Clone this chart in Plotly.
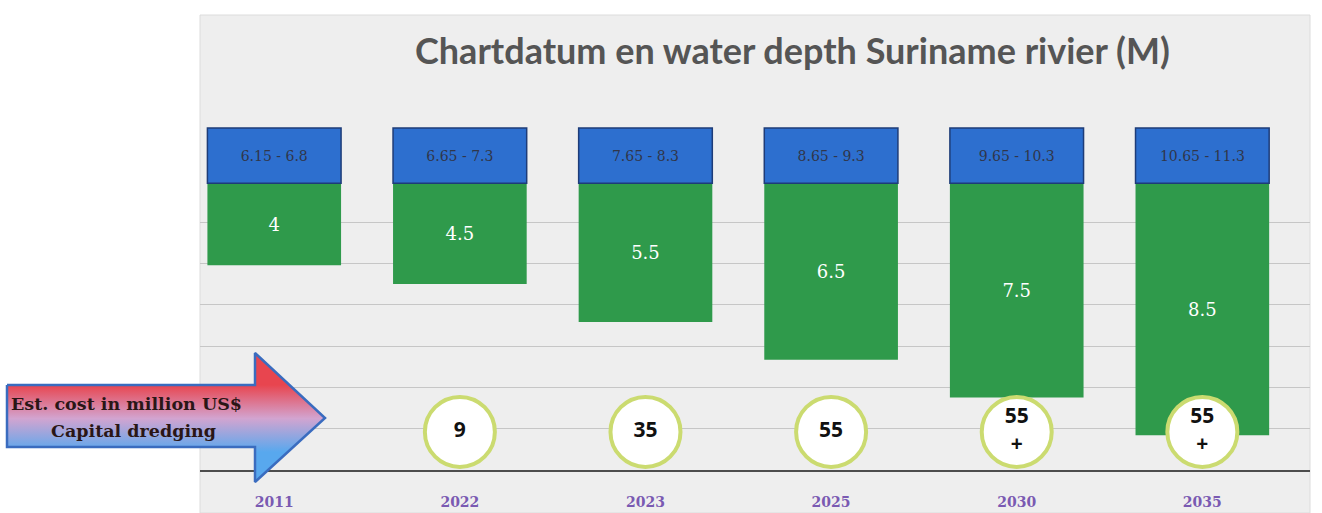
import plotly.graph_objects as go

# ---- data ----
years = ["2011", "2022", "2023", "2025", "2030", "2035"]
water_depth = [4, 4.5, 5.5, 6.5, 7.5, 8.5]
chart_datum = ["6.15 - 6.8", "6.65 - 7.3", "7.65 - 8.3", "8.65 - 9.3", "9.65 - 10.3", "10.65 - 11.3"]
cost_years = ["2022", "2023", "2025", "2030", "2035"]
cost_labels = ["9", "35", "55", "55<br>+", "55<br>+"]

# ---- layout constants (figure is 1322 x 513 px) ----
W, H = 1322, 513
BAR_BASE = 1.83      # depth axis value where green bars start (below the header boxes)
HEADER_TOP = 0.37    # top of blue chart-datum boxes
COST_ROW = 8.41      # axis row of the cost circles
Y_RANGE = [9.418, -2.619]
GRID_STEP = 1.093
BAR_W = 0.72

PLOT_X0, PLOT_X1 = 200, 1310
PLOT_Y0, PLOT_Y1 = 15, 470  # top, bottom in px

fig = go.Figure()

# green water-depth bars
fig.add_trace(go.Bar(
    x=years, y=[d - BAR_BASE for d in water_depth], base=BAR_BASE,
    width=BAR_W, text=[str(d) for d in water_depth],
    textposition="inside", insidetextanchor="middle", textangle=0,
    textfont=dict(color="white", family="DejaVu Serif", size=18),
    marker=dict(color="#2f9a4b", line=dict(width=0)),
    hoverinfo="skip", showlegend=False,
))

# blue chart-datum header boxes
fig.add_trace(go.Bar(
    x=years, y=[BAR_BASE - HEADER_TOP] * len(years), base=HEADER_TOP,
    width=BAR_W, text=chart_datum,
    textposition="inside", insidetextanchor="middle", textangle=0,
    textfont=dict(color="#30364a", family="DejaVu Serif", size=14),
    marker=dict(color="#2d6fcf", line=dict(color="#1e3c78", width=1.5)),
    hoverinfo="skip", showlegend=False,
))

# cost circles
fig.add_trace(go.Scatter(
    x=cost_years, y=[COST_ROW] * len(cost_years), mode="markers+text",
    text=cost_labels, textposition="middle center",
    textfont=dict(color="#111111", family="Open Sans", size=21, weight="bold"),
    marker=dict(size=70, color="white", line=dict(color="#cbdb70", width=4)),
    hoverinfo="skip", showlegend=False,
))

# decorative gradient arrow (pixel space overlay axes)
ax = [7, 255, 255, 325, 255, 255, 7, 7]
ay_px = [385, 385, 353, 418, 482, 447, 447, 385]
fig.add_trace(go.Scatter(
    x=ax, y=[H - v for v in ay_px], xaxis="x2", yaxis="y2",
    mode="lines", fill="toself",
    fillgradient=dict(type="vertical", start=H - 452, stop=H - 385,
                      colorscale=[[0, "#58a8ee"], [0.5, "#d2a4d0"], [1, "#e8454f"]]),
    line=dict(color="#3a6cbf", width=2.5),
    hoverinfo="skip", showlegend=False,
))

grid_vals = [Y_RANGE[0] - k * GRID_STEP for k in range(1, 7)]

fig.update_layout(
    width=W, height=H,
    margin=dict(l=0, r=0, t=0, b=0),
    paper_bgcolor="white",
    plot_bgcolor="rgba(0,0,0,0)",
    barmode="overlay",
    xaxis=dict(
        domain=[PLOT_X0 / W, PLOT_X1 / W],
        type="category", range=[-0.40, 5.58],
        showgrid=False, ticks="", ticklabelstandoff=18,
        tickfont=dict(color="#7a5ab2", family="DejaVu Serif", size=14, weight="bold"),
        showline=True, linecolor="#4d4d4d", linewidth=2,
        fixedrange=True,
    ),
    yaxis=dict(
        domain=[1 - PLOT_Y1 / H, 1 - PLOT_Y0 / H],
        range=Y_RANGE, showticklabels=False, ticks="",
        tickmode="array", tickvals=grid_vals,
        showgrid=True, gridcolor="#c6c6c6", gridwidth=1,
        zeroline=False, fixedrange=True,
    ),
    xaxis2=dict(domain=[0, 1], range=[0, W], visible=False, anchor="y2", fixedrange=True),
    yaxis2=dict(domain=[0, 1], range=[0, H], visible=False, anchor="x2", fixedrange=True),
    shapes=[
        dict(type="rect", xref="paper", yref="paper", layer="below",
             x0=PLOT_X0 / W, x1=PLOT_X1 / W, y0=0, y1=1 - PLOT_Y0 / H,
             fillcolor="#eeeeee", line=dict(color="#dcdcdc", width=1)),
    ],
    annotations=[
        dict(text="Chartdatum en water depth Suriname rivier (M)",
             xref="paper", yref="paper", x=792 / W, y=1 - 50 / H,
             showarrow=False, xanchor="center", yanchor="middle",
             font=dict(family="Lato", size=36, color="#555555", weight="bold")),
        dict(text="Est. cost in million US$", xref="paper", yref="paper",
             x=126 / W, y=1 - 404 / H, showarrow=False, xanchor="center", yanchor="middle",
             font=dict(family="DejaVu Serif", size=17.5, color="#2a1616", weight="bold")),
        dict(text="Capital dredging", xref="paper", yref="paper",
             x=133 / W, y=1 - 431 / H, showarrow=False, xanchor="center", yanchor="middle",
             font=dict(family="DejaVu Serif", size=17.5, color="#2a1616", weight="bold")),
    ],
)

fig.write_html("out.html", config={"displayModeBar": False},
               post_script="document.body.style.margin='0';")
